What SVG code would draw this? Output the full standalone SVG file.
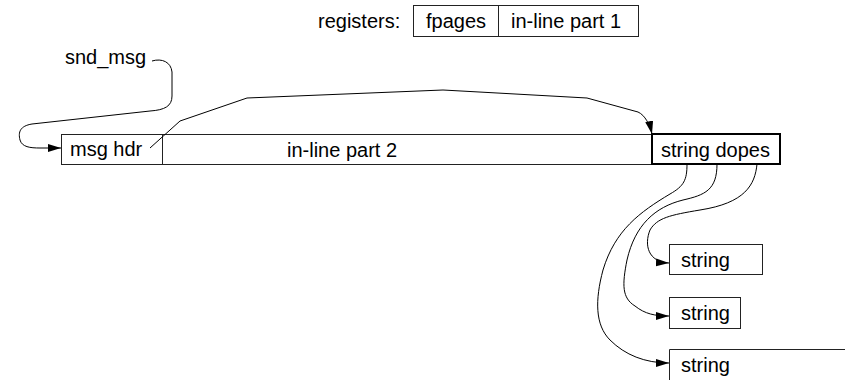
<svg xmlns="http://www.w3.org/2000/svg" width="845" height="380" viewBox="0 0 845 380">
<style>
  text { font-family: "Liberation Sans", Arial, sans-serif; font-size: 20px; fill: #000; }
  .box { fill: #fff; stroke: #222; stroke-width: 1; }
  .thick { fill: #fff; stroke: #000; stroke-width: 2; }
  .conn { fill: none; stroke: #000; stroke-width: 1; }
</style>
<defs>
  <marker id="arr" markerUnits="userSpaceOnUse" markerWidth="14" markerHeight="10" refX="13" refY="4" orient="auto">
    <path d="M0,0 L13,4 L0,8 z" fill="#000"/>
  </marker>
</defs>
<rect width="845" height="380" fill="#fff"/>
<g id="registers">
  <text x="318" y="28">registers:</text>
  <rect class="box" x="413.5" y="5.5" width="225" height="31"/>
  <line class="box" x1="498.5" y1="5.5" x2="498.5" y2="36.5"/>
  <text x="426" y="28">fpages</text>
  <text x="511" y="28">in-line part 1</text>
</g>
<g id="snd_msg">
  <text x="65" y="64">snd_msg</text>
</g>
<g id="message">
  <rect class="box" x="61.5" y="134.5" width="591" height="30"/>
  <line class="box" x1="162.5" y1="134.5" x2="162.5" y2="164.5"/>
  <text x="70" y="156">msg hdr</text>
  <text x="287" y="157">in-line part 2</text>
</g>
<g id="string_dopes">
  <rect class="thick" x="652" y="134" width="128" height="30"/>
  <text x="661" y="157">string dopes</text>
</g>
<g id="string1">
  <rect class="box" x="669.5" y="244.5" width="93" height="30"/>
  <text x="681" y="267">string</text>
</g>
<g id="string2">
  <rect class="box" x="669.5" y="297.5" width="71" height="31"/>
  <text x="681" y="320">string</text>
</g>
<g id="string3">
  <path class="box" d="M669.5,385 L669.5,349.5 L846,349.5" fill="none"/>
  <text x="681" y="372">string</text>
</g>
<g id="connectors">
  <path class="conn" marker-end="url(#arr)" d="M152,61 C162,58 171,62 172,72 L172,96 C172,106 165,110 150,111 L32,124 C20,126 18,132 20,140 C22,147 30,148 40,148 L61,148"/>
  <path class="conn" marker-end="url(#arr)" d="M150,148 L180,121 L247,98 L443,90 L587,98 L638,112 C645,115 650,125 652,134"/>
  <path class="conn" marker-end="url(#arr)" d="M687,164 C687,180 684,186 670,194 C640,212 615,230 603,270 C595,300 595,325 610,340 C625,355 645,363 669,363"/>
  <path class="conn" marker-end="url(#arr)" d="M717,164 C717,190 705,195 683,200 C655,207 635,225 627,260 C622,285 622,298 635,306 C645,314 655,316 669,316"/>
  <path class="conn" marker-end="url(#arr)" d="M757,164 C755,185 745,203 700,210 C670,215 657,218 650,230 C644,245 648,262 669,263"/>
</g>
</svg>
